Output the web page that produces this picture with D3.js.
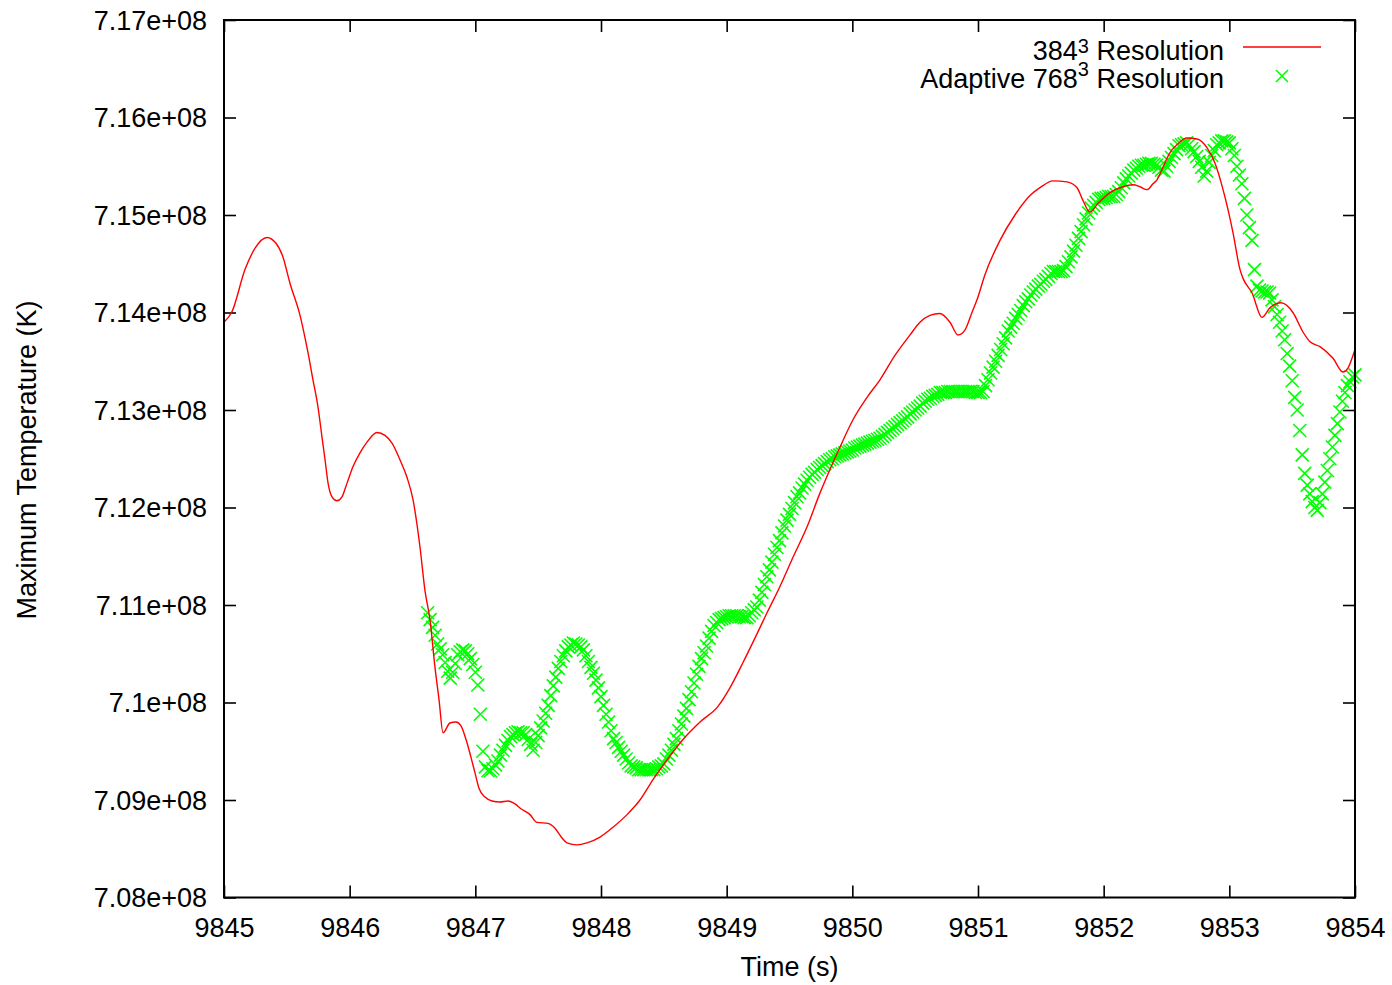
<!DOCTYPE html>
<html>
<head>
<meta charset="utf-8">
<script src="https://cdn.jsdelivr.net/npm/d3@7"></script>
<style>
  body { margin: 0; background: #fff; }
  text { font-family: "Liberation Sans", Arial, Helvetica, sans-serif; fill: #000; }
</style>
</head>
<body>
<svg id="chart" width="1392" height="985"></svg>
<script>
// Temperatures are given in units of 1e6 K.
const xTicks = [9845, 9846, 9847, 9848, 9849, 9850, 9851, 9852, 9853, 9854];
const xTickLabels = ["9845", "9846", "9847", "9848", "9849", "9850", "9851", "9852", "9853", "9854"];
const yTicks = [708, 709, 710, 711, 712, 713, 714, 715, 716, 717];
const yTickLabels = ["7.08e+08", "7.09e+08", "7.1e+08", "7.11e+08", "7.12e+08",
                     "7.13e+08", "7.14e+08", "7.15e+08", "7.16e+08", "7.17e+08"];

// 384^3 run: maximum temperature vs. time
const redTime = [
  9845.000, 9845.064, 9845.167, 9845.247, 9845.342, 9845.414, 9845.469, 9845.525, 9845.605, 9845.668,
  9845.708, 9845.748, 9845.780, 9845.804, 9845.828, 9845.859, 9845.899, 9845.939, 9845.979, 9846.027,
  9846.082, 9846.138, 9846.217, 9846.281, 9846.337, 9846.400, 9846.456, 9846.504, 9846.560, 9846.599,
  9846.639, 9846.679, 9846.711, 9846.743, 9846.798, 9846.846, 9846.886, 9846.926, 9846.965, 9846.997,
  9847.029, 9847.077, 9847.133, 9847.196, 9847.260, 9847.316, 9847.363, 9847.435, 9847.491, 9847.578,
  9847.634, 9847.690, 9847.729, 9847.809, 9847.888, 9847.992, 9848.095, 9848.207, 9848.310, 9848.414,
  9848.525, 9848.652, 9848.788, 9848.931, 9849.026, 9849.130, 9849.225, 9849.321, 9849.424, 9849.528,
  9849.639, 9849.743, 9849.822, 9849.902, 9850.005, 9850.117, 9850.220, 9850.339, 9850.459, 9850.538,
  9850.618, 9850.697, 9850.777, 9850.841, 9850.896, 9850.952, 9850.992, 9851.056, 9851.175, 9851.294,
  9851.414, 9851.493, 9851.597, 9851.708, 9851.788, 9851.835, 9851.891, 9851.955, 9852.050, 9852.154,
  9852.233, 9852.289, 9852.345, 9852.392, 9852.424, 9852.472, 9852.528, 9852.583, 9852.663, 9852.743,
  9852.822, 9852.886, 9852.950, 9853.029, 9853.085, 9853.109, 9853.181, 9853.260, 9853.324, 9853.411,
  9853.506, 9853.586, 9853.642, 9853.721, 9853.825, 9853.904, 9853.944, 9853.984, 9854.000
];
const redTemp = [
  713.90, 714.01, 714.44, 714.66, 714.77, 714.71, 714.57, 714.30, 713.97, 713.59,
  713.31, 713.03, 712.72, 712.49, 712.25, 712.11, 712.07, 712.11, 712.25, 712.42,
  712.56, 712.67, 712.77, 712.74, 712.66, 712.49, 712.31, 712.08, 711.59, 711.15,
  710.85, 710.36, 710.03, 709.69, 709.79, 709.80, 709.76, 709.62, 709.44, 709.28,
  709.12, 709.03, 708.99, 708.98, 708.99, 708.96, 708.91, 708.85, 708.77, 708.76,
  708.71, 708.61, 708.56, 708.54, 708.56, 708.62, 708.72, 708.85, 709.00, 709.21,
  709.41, 709.62, 709.80, 709.96, 710.15, 710.41, 710.66, 710.92, 711.19, 711.49,
  711.80, 712.15, 712.39, 712.62, 712.90, 713.13, 713.31, 713.56, 713.77, 713.90,
  713.97, 713.99, 713.90, 713.77, 713.82, 714.00, 714.13, 714.39, 714.74, 715.00,
  715.20, 715.28, 715.35, 715.34, 715.28, 715.15, 715.03, 715.12, 715.23, 715.29,
  715.31, 715.29, 715.26, 715.32, 715.36, 715.49, 715.64, 715.72, 715.79, 715.78,
  715.69, 715.53, 715.26, 714.82, 714.44, 714.35, 714.20, 713.95, 714.05, 714.10,
  714.00, 713.80, 713.70, 713.65, 713.53, 713.39, 713.43, 713.56, 713.62
];

// Adaptive 768^3 run: outputs every 0.02 s starting at t = 9846.62 s
const greenStart = 9846.62;
const greenStep = 0.02;
const greenTemp = [
  710.92, 710.85, 710.77, 710.69, 710.60, 710.55, 710.49, 710.41, 710.32, 710.25,
  710.31, 710.40, 710.49, 710.52, 710.54, 710.53, 710.50, 710.45, 710.39, 710.31,
  710.18, 709.88, 709.50, 709.34, 709.30, 709.30, 709.32, 709.36, 709.40, 709.46,
  709.51, 709.56, 709.61, 709.65, 709.67, 709.69, 709.70, 709.69, 709.69, 709.67,
  709.62, 709.57, 709.51, 709.59, 709.66, 709.74, 709.81, 709.89, 709.97, 710.07,
  710.17, 710.26, 710.35, 710.42, 710.48, 710.53, 710.57, 710.59, 710.61, 710.60,
  710.59, 710.57, 710.54, 710.48, 710.42, 710.36, 710.30, 710.23, 710.15, 710.06,
  709.97, 709.88, 709.80, 709.71, 709.63, 709.59, 709.54, 709.50, 709.46, 709.42,
  709.38, 709.35, 709.34, 709.33, 709.31, 709.31, 709.31, 709.31, 709.31, 709.31,
  709.31, 709.32, 709.34, 709.35, 709.37, 709.42, 709.46, 709.51, 709.57, 709.63,
  709.71, 709.78, 709.86, 709.94, 710.03, 710.11, 710.20, 710.29, 710.37, 710.45,
  710.51, 710.58, 710.66, 710.73, 710.79, 710.82, 710.85, 710.86, 710.87, 710.88,
  710.89, 710.89, 710.89, 710.89, 710.88, 710.88, 710.87, 710.87, 710.89, 710.92,
  710.95, 710.98, 711.05, 711.13, 711.21, 711.29, 711.36, 711.44, 711.52, 711.59,
  711.66, 711.74, 711.81, 711.87, 711.93, 711.99, 712.05, 712.11, 712.15, 712.20,
  712.24, 712.28, 712.31, 712.34, 712.36, 712.39, 712.41, 712.43, 712.45, 712.47,
  712.49, 712.50, 712.52, 712.53, 712.54, 712.55, 712.56, 712.57, 712.58, 712.59,
  712.61, 712.62, 712.63, 712.64, 712.65, 712.66, 712.67, 712.68, 712.69, 712.70,
  712.71, 712.73, 712.75, 712.77, 712.79, 712.81, 712.83, 712.85, 712.87, 712.89,
  712.91, 712.93, 712.96, 712.98, 713.00, 713.02, 713.04, 713.07, 713.09, 713.11,
  713.12, 713.14, 713.15, 713.16, 713.18, 713.18, 713.18, 713.19, 713.19, 713.19,
  713.19, 713.19, 713.19, 713.19, 713.19, 713.19, 713.19, 713.19, 713.18, 713.18,
  713.18, 713.19, 713.25, 713.31, 713.38, 713.44, 713.50, 713.56, 713.62, 713.68,
  713.74, 713.81, 713.85, 713.89, 713.94, 713.98, 714.02, 714.07, 714.11, 714.14,
  714.18, 714.21, 714.24, 714.27, 714.29, 714.32, 714.34, 714.37, 714.40, 714.42,
  714.42, 714.42, 714.42, 714.43, 714.47, 714.52, 714.57, 714.63, 714.69, 714.76,
  714.83, 714.90, 714.96, 715.02, 715.07, 715.10, 715.13, 715.16, 715.17, 715.17,
  715.18, 715.19, 715.19, 715.19, 715.21, 715.24, 715.28, 715.33, 715.37, 715.40,
  715.43, 715.46, 715.48, 715.50, 715.51, 715.51, 715.52, 715.53, 715.53, 715.52,
  715.51, 715.49, 715.46, 715.45, 715.50, 715.55, 715.59, 715.63, 715.67, 715.71,
  715.72, 715.73, 715.74, 715.72, 715.68, 715.65, 715.60, 715.55, 715.49, 715.40,
  715.45, 715.54, 715.61, 715.66, 715.72, 715.74, 715.76, 715.76, 715.75, 715.74,
  715.68, 715.61, 715.50, 715.41, 715.32, 715.17, 715.00, 714.87, 714.74, 714.44,
  714.27, 714.23, 714.22, 714.21, 714.21, 714.20, 714.13, 714.06, 713.98, 713.90,
  713.81, 713.72, 713.58, 713.45, 713.30, 713.13, 713.00, 712.79, 712.54, 712.35,
  712.23, 712.14, 712.06, 712.00, 711.97, 712.05, 712.14, 712.26, 712.38, 712.50,
  712.62, 712.74, 712.86, 712.98, 713.09, 713.18, 713.25, 713.29, 713.34, 713.36
];

const seriesNames = ["384", "Adaptive 768"];
const redColor = "#ff0000";
const greenColor = "#00ff00";

// Frame geometry
const plot = { left: 224, top: 20, right: 1355, bottom: 897.5 };
const svg = d3.select("#chart");

const x = d3.scaleLinear().domain([9845, 9854]).range([plot.left, plot.right]);
const y = d3.scaleLinear().domain([708, 717]).range([plot.bottom, plot.top]);

const redData = redTime.map((t, i) => ({ t, v: redTemp[i] }));
const greenData = greenTemp.map((v, i) => ({ t: greenStart + i * greenStep, v }));

const tickLen = 12;
const fontSize = 27;

// Axes with inward ticks on all four sides
const gx = svg.append("g").attr("transform", `translate(0,${plot.bottom})`)
  .call(d3.axisBottom(x).tickValues(xTicks).tickSizeInner(-tickLen).tickSizeOuter(0)
    .tickFormat((d, i) => xTickLabels[i]));
gx.select(".domain").remove();
gx.selectAll(".tick line").attr("stroke", "#000").attr("stroke-width", 1.6);
gx.selectAll(".tick text").attr("font-size", fontSize).attr("y", 39).attr("dy", 0)
  .style("font-family", '"Liberation Sans", Arial, sans-serif');

const gxTop = svg.append("g").attr("transform", `translate(0,${plot.top})`)
  .call(d3.axisTop(x).tickValues(xTicks).tickSizeInner(-tickLen).tickSizeOuter(0).tickFormat(""));
gxTop.select(".domain").remove();
gxTop.selectAll(".tick line").attr("stroke", "#000").attr("stroke-width", 1.6);

const gy = svg.append("g").attr("transform", `translate(${plot.left},0)`)
  .call(d3.axisLeft(y).tickValues(yTicks).tickSizeInner(-tickLen).tickSizeOuter(0)
    .tickFormat((d, i) => yTickLabels[i]));
gy.select(".domain").remove();
gy.selectAll(".tick line").attr("stroke", "#000").attr("stroke-width", 1.6);
gy.selectAll(".tick text").attr("font-size", fontSize).attr("x", -17).attr("dy", "0.35em")
  .style("font-family", '"Liberation Sans", Arial, sans-serif');

const gyRight = svg.append("g").attr("transform", `translate(${plot.right},0)`)
  .call(d3.axisRight(y).tickValues(yTicks).tickSizeInner(-tickLen).tickSizeOuter(0).tickFormat(""));
gyRight.select(".domain").remove();
gyRight.selectAll(".tick line").attr("stroke", "#000").attr("stroke-width", 1.6);

// Green X markers
const xMark = "M-6.5,-6.5L6.5,6.5M-6.5,6.5L6.5,-6.5";
svg.append("g").selectAll("path").data(greenData).join("path")
  .attr("d", xMark)
  .attr("transform", d => `translate(${x(d.t)},${y(d.v)})`)
  .attr("fill", "none").attr("stroke", greenColor).attr("stroke-width", 1.6);

// Red line
svg.append("path").datum(redData)
  .attr("d", d3.line().x(d => x(d.t)).y(d => y(d.v)).curve(d3.curveMonotoneX))
  .attr("fill", "none").attr("stroke", redColor).attr("stroke-width", 1.4);

// Border
svg.append("rect")
  .attr("x", plot.left).attr("y", plot.top)
  .attr("width", plot.right - plot.left).attr("height", plot.bottom - plot.top)
  .attr("fill", "none").attr("stroke", "#000").attr("stroke-width", 2);

// Axis titles
svg.append("text").attr("x", (plot.left + plot.right) / 2).attr("y", 976)
  .attr("text-anchor", "middle").attr("font-size", fontSize).text("Time (s)");
svg.append("text").attr("transform", "translate(36,460) rotate(-90)")
  .attr("text-anchor", "middle").attr("font-size", fontSize).text("Maximum Temperature (K)");

// Legend
const legendRight = 1224;
const legendRows = [60, 88];
const supRaise = [7, 12];
seriesNames.forEach((name, i) => {
  const t = svg.append("text").attr("x", legendRight).attr("y", legendRows[i])
    .attr("text-anchor", "end").attr("font-size", fontSize);
  t.append("tspan").text(name);
  t.append("tspan").attr("font-size", 20).attr("dy", -supRaise[i]).text("3");
  t.append("tspan").attr("dy", supRaise[i]).text(" Resolution");
});
svg.append("line").attr("x1", 1243).attr("x2", 1321).attr("y1", 47).attr("y2", 47)
  .attr("stroke", redColor).attr("stroke-width", 1.4);
svg.append("path").attr("d", "M-6,-6L6,6M-6,6L6,-6").attr("transform", "translate(1282,76)")
  .attr("fill", "none").attr("stroke", greenColor).attr("stroke-width", 1.6);
</script>
</body>
</html>
